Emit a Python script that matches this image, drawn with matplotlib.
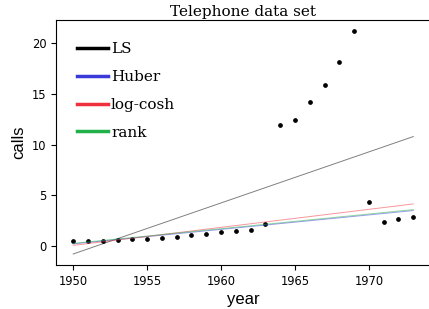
import matplotlib
matplotlib.use("Agg")
import matplotlib.pyplot as plt
import numpy as np
from matplotlib.lines import Line2D

years = np.arange(1950, 1974)
calls = [0.44, 0.47, 0.47, 0.59, 0.66, 0.73, 0.81, 0.88, 1.06, 1.20, 1.35, 1.49,
         1.61, 2.12, 11.90, 12.40, 14.20, 15.90, 18.20, 21.20, 4.30, 2.40, 2.70, 2.90]

# robust fits: value at 1950 and slope per year
fit_names = ["Huber", "log-cosh", "rank"]
fit_start = [0.20, 0.05, 0.25]
fit_slope = [0.143, 0.178, 0.145]
fit_colors = ["#3a3ad8", "#f0303c", "#22b04a"]

fig = plt.figure(figsize=(4.29, 3.09), dpi=100)
ax = fig.add_axes([0.131, 0.142, 0.872, 0.793])

ax.plot(years, calls, "o", color="black", markersize=2.4)

x = np.array([years[0], years[-1]])
b, a = np.polyfit(years, calls, 1)
ax.plot(x, a + b * x, color="black", lw=0.7, alpha=0.5)
for start, slope, c in zip(fit_start, fit_slope, fit_colors):
    ax.plot(x, start + slope * (x - years[0]), color=c, lw=0.7, alpha=0.5)

handles = [Line2D([], [], color="black", lw=2.5)]
handles += [Line2D([], [], color=c, lw=2.5) for c in fit_colors]
ax.legend(handles, ["LS"] + fit_names, loc="upper left", frameon=False,
          prop={"family": "DejaVu Serif", "size": 11}, labelspacing=0.9,
          handlelength=2.0, handletextpad=0.2, borderaxespad=0.5,
          bbox_to_anchor=(0.02, 0.965))

ax.set_xticks([1950, 1955, 1960, 1965, 1970])
ax.set_yticks([0, 5, 10, 15, 20])
ax.tick_params(labelsize=8.3)
ax.set_xlabel("year", fontsize=12, family="Liberation Sans", labelpad=3)
ax.set_ylabel("calls", fontsize=12, family="Liberation Sans")
ax.set_title("Telephone data set", fontsize=11, family="DejaVu Serif", pad=3)

fig.savefig("out.png", dpi=100)
